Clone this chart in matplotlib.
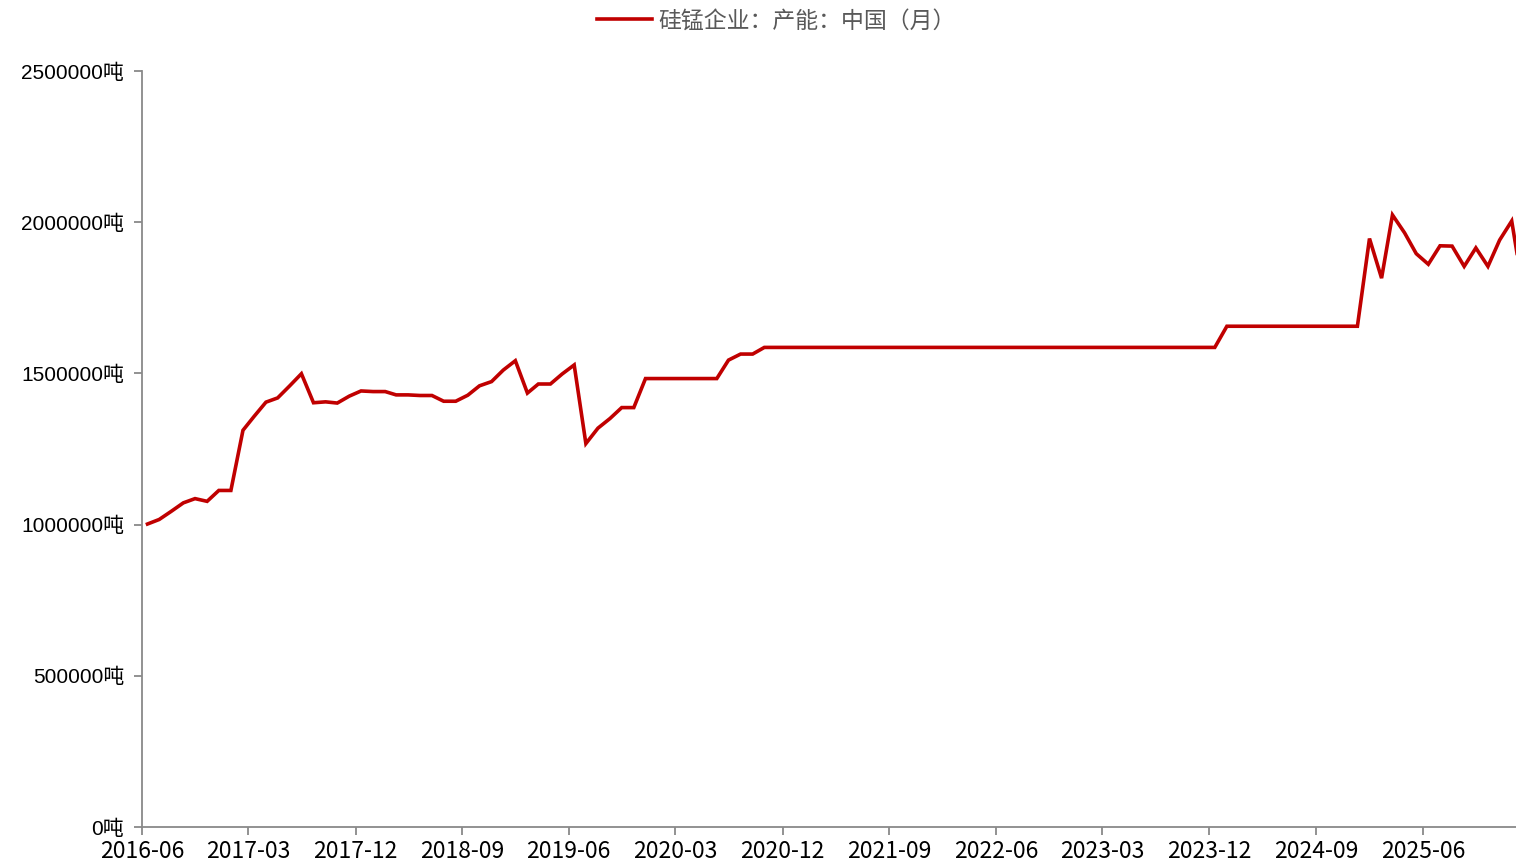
import numpy as np
import pandas as pd
import matplotlib
matplotlib.use('Agg')
import matplotlib.pyplot as plt
import matplotlib.dates as mdates
from matplotlib.ticker import FixedLocator

# monthly capacity, from 2016-06 (last value is cut off by the right edge)
START_MONTH = '2016-06'
CAPACITY = [1002000, 1017000, 1044000, 1072000, 1086000, 1077000, 1113000, 1113000,
            1312000, 1357000, 1405000, 1419000, 1459000, 1499000, 1403000, 1406000,
            1402000, 1425000, 1442000, 1440000, 1440000, 1429000, 1429000, 1427000,
            1427000, 1408000, 1408000, 1428000, 1459000, 1473000, 1511000, 1542000,
            1435000, 1465000, 1465000, 1498000, 1528000, 1268000, 1319000, 1351000,
            1387000, 1387000] \
    + [1483000] * 7 \
    + [1544000, 1564000, 1564000] \
    + [1586000] * 39 \
    + [1656000] * 12 \
    + [1946000, 1815000, 2024000, 1965000, 1896000, 1861000, 1922000, 1921000,
       1854000, 1915000, 1854000, 1941000, 2004000, 1760000]

# x tick labels every 9 months
X_TICKS = ['2016-06', '2017-03', '2017-12', '2018-09', '2019-06', '2020-03', '2020-12',
           '2021-09', '2022-06', '2023-03', '2023-12', '2024-09', '2025-06']
Y_TICKS = [0, 500000, 1000000, 1500000, 2000000, 2500000]

LABEL = '硅锰企业：产能：中国（月）'
RED = '#C00000'
GREY = '#898989'

dates = pd.date_range(START_MONTH + '-01', periods=len(CAPACITY), freq='MS') + pd.Timedelta(days=14)

fig = plt.figure(figsize=(15.16, 8.66), dpi=100)
ax = fig.add_axes([0.0937, 0.045, 1.0 - 0.0937, 0.918 - 0.045])

line, = ax.plot(dates, CAPACITY, color=RED, lw=2.6, solid_joinstyle='miter', label=LABEL)

ax.set_xlim(pd.Timestamp('2016-06-01'), pd.Timestamp('2026-01-26'))
ax.set_ylim(0, 2500000)

tick_dates = [mdates.date2num(pd.Timestamp(t + '-01')) for t in X_TICKS]
ax.xaxis.set_major_locator(FixedLocator(tick_dates))
ax.set_xticklabels(X_TICKS, fontsize=16.5, family=['Noto Sans CJK SC', 'DejaVu Sans'])
ax.set_yticks(Y_TICKS)
ax.set_yticklabels([f'{v}吨' for v in Y_TICKS], fontsize=15,
                   family=['Liberation Sans', 'Noto Sans CJK SC'])

for s in ['top', 'right']:
    ax.spines[s].set_visible(False)
for s in ['left', 'bottom']:
    ax.spines[s].set_color(GREY)
    ax.spines[s].set_linewidth(1.3)
ax.tick_params(axis='both', colors=GREY, labelcolor='black', width=1.3, length=6, direction='out')
ax.tick_params(axis='x', pad=3)
ax.tick_params(axis='y', pad=7)

leg = fig.legend(handles=[line], loc='center', bbox_to_anchor=(0.512, 0.976), frameon=False,
                 handlelength=2.4, handletextpad=0.3,
                 prop={'family': 'Noto Sans CJK SC', 'size': 16.5})
for t in leg.get_texts():
    t.set_color('#595959')

fig.savefig('out.png', dpi=100)
plt.close(fig)
